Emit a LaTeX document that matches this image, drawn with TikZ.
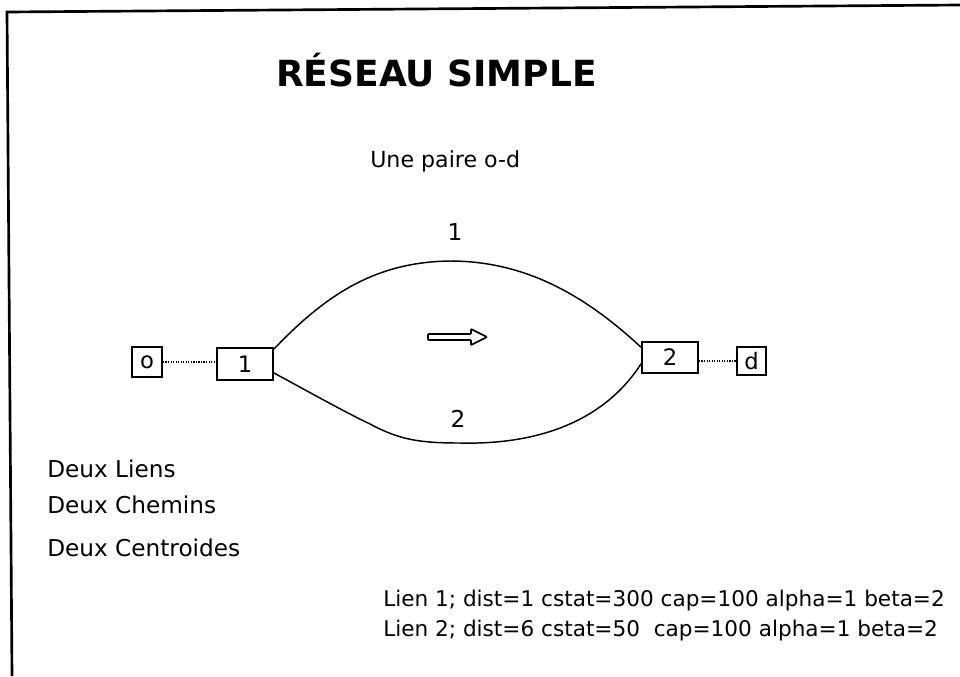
\documentclass[tikz,border=0pt]{standalone}
\usepackage{fontspec}
\setmainfont{DejaVu Sans}
\usetikzlibrary{calc}
\begin{document}
\begin{tikzpicture}[x=0.75pt,y=-0.75pt,
  box/.style={draw,line width=1.4pt,inner sep=0pt,font=\fontsize{17}{20}\selectfont},
  body/.style={inner sep=0pt,anchor=base west,font=\fontsize{17.4}{20}\selectfont},
  small/.style={inner sep=0pt,anchor=base west,font=\fontsize{16.2}{19}\selectfont},
  link/.style={line width=1.1pt},
  access/.style={densely dotted,line width=0.9pt}]
\useasboundingbox (0,0) rectangle (960,676);
% frame
\draw[line width=2pt] (12,676) -- (7,12) -- (960,5);
% title and subtitle
\node[inner sep=0pt,anchor=base west,font=\fontsize{27}{32}\bfseries\selectfont] (title) at (276,86) {RÉSEAU SIMPLE};
\node[inner sep=0pt,anchor=base west,font=\fontsize{16.6}{20}\selectfont] (pair) at (370,167) {Une paire o-d};
% nodes
\node[box,minimum width=22.5pt,minimum height=22.5pt] (o) at (147,362) {o};
\node[box,minimum width=42pt,minimum height=24pt] (n1) at (245,364) {1};
\node[box,minimum width=42pt,minimum height=23pt] (n2) at (670,357.5) {2};
\node[box,minimum width=21.5pt,minimum height=21pt] (d) at (751.5,361) {d};
% access links
\draw[access] (o.east) -- (o.east -| n1.west);
\draw[access] (n2.east |- d.west) -- (d.west);
% link 1 (upper) and link 2 (lower)
\draw[link] ($(n1.north east)+(0,2)$) .. controls (330,290) and (380,262) .. (450,261)
  .. controls (530,261) and (590,300) .. ($(n2.north west)+(0,6)$);
\draw[link] ($(n1.south east)+(0,-8)$) .. controls (320,398) and (345,412) .. (370,424)
  .. controls (400,440) and (420,443) .. (460,443)
  .. controls (540,445) and (605,420) .. ($(n2.south west)+(0,-10)$);
\node[body,anchor=center] (l1) at (455,232) {1};
\node[body,anchor=center] (l2) at (458,419) {2};
% flow direction
\draw[line width=1.3pt,rounded corners=0.6pt] (428,334) -- (471,334) -- (471,329) -- (487,337)
  -- (471,345) -- (471,340) -- (428,340) -- cycle;
% summary
\node[body] (t1) at (47,477) {Deux Liens};
\node[body] (t2) at (47,513) {Deux Chemins};
\node[body] (t3) at (47,556) {Deux Centroides};
\node[small] (p1) at (383,606) {Lien 1; dist=1 cstat=300 cap=100 alpha=1 beta=2};
\node[small] (p2) at (383,636) {Lien 2; dist=6 cstat=50\ \ cap=100 alpha=1 beta=2};
\end{tikzpicture}
\end{document}
